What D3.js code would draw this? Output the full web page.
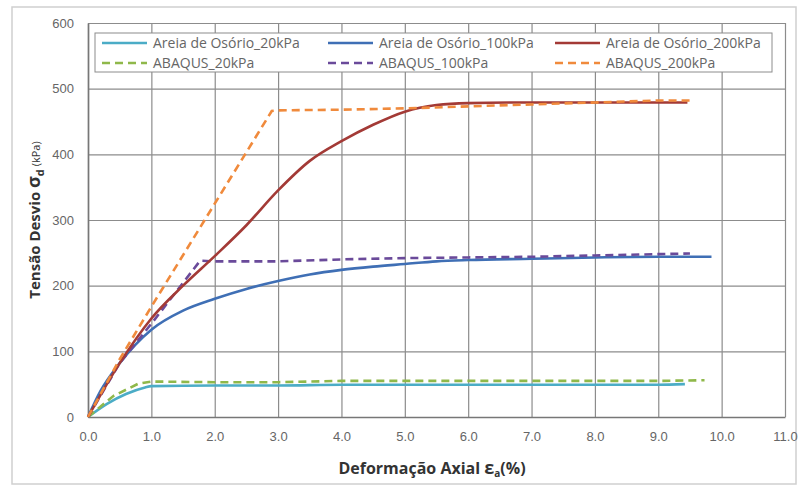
<!DOCTYPE html>
<html><head><meta charset="utf-8">
<script src="https://cdn.jsdelivr.net/npm/d3@7/dist/d3.min.js"></script>
<style>body{margin:0;background:#fff}svg{display:block;font-family:"Open Sans",Arial,sans-serif}</style>
</head><body>
<script>
const xTicks = [0,1,2,3,4,5,6,7,8,9,10,11];
const yTicks = [0,100,200,300,400,500,600];

const areia20 = [[0,0],[0.3,20],[0.6,35],[0.9,45],[1.0,47],[2,48],[3,48],[4,49],[5,49],[6,49],[7,49],[8,49],[9,49],[9.42,50]];
const abaqus20 = [[0,0],[0.4,32],[0.8,51],[1.0,54],[2,53],[3,53],[4,55],[5,55],[6,55],[7,55],[8,55],[9,55],[9.73,56]];
const areia100 = [[0,0],[0.2,40],[0.5,82],[1,133],[1.5,162],[2,180],[2.5,195],[3,207],[3.5,217],[4,224],[4.5,229],[5,233],[5.5,237],[6,239],[7,241],[8,243],[9,244],[9.84,244]];
const abaqus100 = [[0,0],[0.5,82],[1,142],[1.77,238],[2,237],[3,237],[4,240],[5,242],[6,243],[7,244],[8,246],[9,248],[9.5,249]];
const areia200 = [[0,0],[0.5,82],[1,150],[1.5,200],[2,245],[2.5,292],[3,345],[3.5,390],[4,420],[4.5,445],[5,465],[5.5,475],[6,478],[7,479],[8,479],[9,479],[9.46,479]];
const abaqus200 = [[0,0],[0.5,88],[1,168],[2.9,466],[3,467],[4,468],[5,470],[6,473],[7,476],[8,479],[9,482],[9.5,482]];

const seriesNames = ["Areia de Osório_20kPa","Areia de Osório_100kPa","Areia de Osório_200kPa","ABAQUS_20kPa","ABAQUS_100kPa","ABAQUS_200kPa"];
const seriesData = [areia20, areia100, areia200, abaqus20, abaqus100, abaqus200];
const seriesColors = ["#4bacc6","#3f6fb5","#a33a36","#8fb84a","#6a4a9a","#f08a3c"];
const seriesDashed = [false,false,false,true,true,true];

const W=798,H=486;
const svg=d3.select("body").append("svg").attr("width",W).attr("height",H);
svg.append("rect").attr("x",12).attr("y",7).attr("width",784).attr("height",477).attr("fill","#fff").attr("stroke","#cfcfcf").attr("stroke-width",1.5);

const m={l:88,r:785,t:23,b:417};
const x=d3.scaleLinear().domain([0,11]).range([m.l,m.r]);
const y=d3.scaleLinear().domain([0,600]).range([m.b,m.t]);

// gridlines via axes
const gx=svg.append("g").attr("transform",`translate(0,${m.b})`).call(d3.axisBottom(x).tickValues(xTicks).tickSize(-(m.b-m.t)).tickFormat(""));
const gy=svg.append("g").attr("transform",`translate(${m.l},0)`).call(d3.axisLeft(y).tickValues(yTicks).tickSize(-(m.r-m.l)).tickFormat(""));
[gx,gy].forEach(a=>{a.select(".domain").remove();a.selectAll(".tick line").attr("stroke","#8c8c8c").attr("stroke-width",1.2);});

const xa=svg.append("g").attr("transform",`translate(0,${m.b})`).call(d3.axisBottom(x).tickValues(xTicks).tickFormat(d3.format(".1f")).tickSize(0).tickPadding(20));
const ya=svg.append("g").attr("transform",`translate(${m.l},0)`).call(d3.axisLeft(y).tickValues(yTicks).tickSize(0).tickPadding(14));
[xa,ya].forEach(a=>{a.select(".domain").attr("stroke","#777").attr("stroke-width",1.6);a.selectAll("text").attr("fill","#666").attr("font-size",13);});
xa.selectAll("text").attr("dy","0.32em");

const lineSmooth=d3.line().x(d=>x(d[0])).y(d=>y(d[1])).curve(d3.curveMonotoneX);
const lineStraight=d3.line().x(d=>x(d[0])).y(d=>y(d[1]));
const order=[0,3,1,4,2,5];
order.forEach(i=>{
  svg.append("path").attr("d",(seriesDashed[i]?lineStraight:lineSmooth)(seriesData[i])).attr("fill","none").attr("stroke",seriesColors[i]).attr("stroke-width",2.6)
    .attr("stroke-dasharray",seriesDashed[i]?"8,5":null);
});

// legend
svg.append("rect").attr("x",95).attr("y",33).attr("width",677).attr("height",39).attr("fill","#fff").attr("stroke","#8c8c8c").attr("stroke-width",1);
const colX=[102,328,555], rowY=[43,63];
seriesNames.forEach((n,i)=>{
  const c=i%3, r=Math.floor(i/3);
  svg.append("line").attr("x1",colX[c]).attr("x2",colX[c]+45).attr("y1",rowY[r]).attr("y2",rowY[r]).attr("stroke",seriesColors[i]).attr("stroke-width",2.6).attr("stroke-dasharray",seriesDashed[i]?"8,5":null);
  svg.append("text").attr("x",colX[c]+51).attr("y",rowY[r]+5).attr("font-size",14).attr("fill","#666").text(n);
});

// axis titles
const yt=svg.append("text").attr("transform","translate(40,220) rotate(-90)").attr("text-anchor","middle").attr("font-weight","bold").attr("font-size",15).attr("fill","#333");
yt.append("tspan").text("Tensão Desvio ");
yt.append("tspan").attr("font-size",18).text("σ");
yt.append("tspan").attr("font-size",11).attr("dy",4).text("d");
yt.append("tspan").attr("font-size",11).attr("font-weight","normal").attr("dy",-4).text(" (kPa)");

const xt=svg.append("text").attr("x",432).attr("y",474).attr("text-anchor","middle").attr("font-weight","bold").attr("font-size",16).attr("fill","#333");
xt.append("tspan").text("Deformação Axial ");
xt.append("tspan").attr("font-size",18).text("ε");
xt.append("tspan").attr("font-size",10).attr("dy",3).text("a");
xt.append("tspan").attr("dy",-3).text("(%)");
</script>
</body></html>
